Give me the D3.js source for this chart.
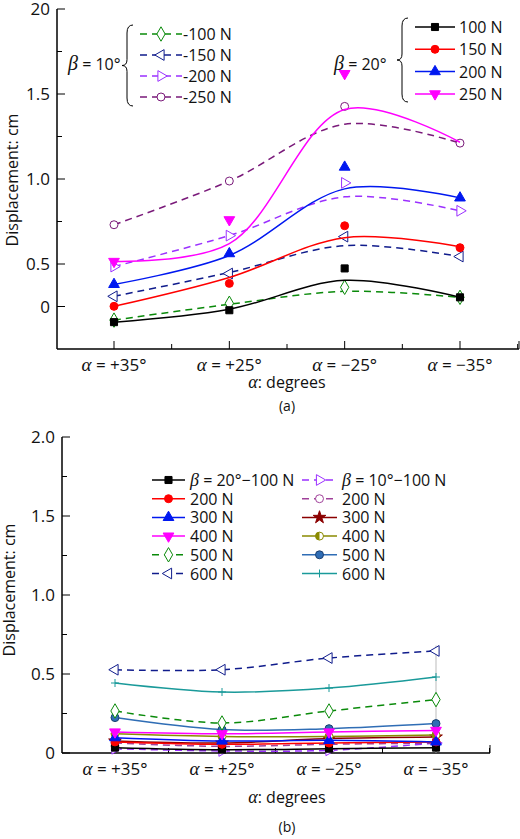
<!DOCTYPE html>
<html><head><meta charset="utf-8">
<script src="https://cdn.jsdelivr.net/npm/d3@7"></script>
<style>body{margin:0;background:#fff}text{font-family:"Open Sans",sans-serif;fill:#111}</style>
</head><body><svg id="c" width="520" height="839"></svg>
<script>
// categories
var alphas = ['+35°', '+25°', '−25°', '−35°'];

// chart (a): measured points and fitted curves
var a20 = [
  {n: '100 N', c: '#000', s: 'square',  pts: [0.158, 0.228, 0.474, 0.304], fit: [0.158, 0.234, 0.404, 0.304]},
  {n: '150 N', c: '#f00', s: 'circle',  pts: [0.251, 0.386, 0.725, 0.596], fit: [0.251, 0.421, 0.655, 0.602]},
  {n: '200 N', c: '#0018f0', s: 'tri',  pts: [0.380, 0.561, 1.070, 0.889], fit: [0.380, 0.550, 0.942, 0.889]},
  {n: '250 N', c: '#ff00ff', s: 'tridown', pts: [0.515, 0.760, 1.620, null], fit: [0.515, 0.620, 1.409, 1.216]}
];
var a10 = [
  {n: '100 N', c: '#0a8a0a', s: 'diamond', pts: [0.170, 0.269, 0.363, 0.304], fit: [0.170, 0.263, 0.339, 0.304]},
  {n: '150 N', c: '#101c8c', s: 'trileft', pts: [0.310, 0.444, 0.661, 0.544], fit: [0.310, 0.450, 0.608, 0.544]},
  {n: '200 N', c: '#9b30ff', s: 'triright', pts: [0.485, 0.667, 0.977, 0.813], fit: [0.485, 0.667, 0.895, 0.813]},
  {n: '250 N', c: '#7a1a7a', s: 'ocircle', pts: [0.731, 0.988, 1.427, 1.211], fit: [0.731, 0.988, 1.322, 1.211]}
];

// chart (b)
var b20 = [
  {n: 'β = 20°−100 N', c: '#000', s: 'square', pts: [0.034, 0.021, 0.027, 0.034]},
  {n: '200 N', c: '#f00', s: 'circle', pts: [0.070, 0.055, 0.063, 0.070]},
  {n: '300 N', c: '#0018f0', s: 'tri', pts: [0.097, 0.076, 0.080, 0.070]},
  {n: '400 N', c: '#ff00ff', s: 'tridown', pts: [0.133, 0.122, 0.133, 0.143]},
  {n: '500 N', c: '#0a8a0a', s: 'diamond', dash: true, pts: [0.266, 0.190, 0.266, 0.338]},
  {n: '600 N', c: '#101c8c', s: 'trileft', dash: true, pts: [0.527, 0.527, 0.601, 0.646]}
];
var b10 = [
  {n: 'β = 10°−100 N', c: '#9b30ff', s: 'triright', dash: true, pts: [0.027, 0.013, 0.017, 0.063]},
  {n: '200 N', c: '#a0409a', s: 'ocircle', dash: true, pts: [0.063, 0.042, 0.055, 0.063]},
  {n: '300 N', c: '#8b0000', s: 'star', pts: [0.076, 0.063, 0.091, 0.101]},
  {n: '400 N', c: '#8a8a00', s: 'half', pts: [0.122, 0.105, 0.105, 0.114]},
  {n: '500 N', c: '#2f6db5', s: 'ball', pts: [0.224, 0.148, 0.154, 0.186]},
  {n: '600 N', c: '#1a9a9a', s: 'plus', pts: [0.443, 0.386, 0.411, 0.481]}
];

var svg = d3.select('#c');

function marker(g, s, c, x, y) {
  var sym = {square: d3.symbolSquare, circle: d3.symbolCircle, tri: d3.symbolTriangle, tridown: d3.symbolTriangle,
    diamond: d3.symbolDiamond, trileft: d3.symbolTriangle, triright: d3.symbolTriangle, ocircle: d3.symbolCircle,
    star: d3.symbolStar, half: d3.symbolCircle, ball: d3.symbolCircle, plus: d3.symbolCross}[s];
  var rot = {tridown: 180, trileft: -90, triright: 90}[s] || 0;
  var hollow = ['diamond', 'trileft', 'triright', 'ocircle'].indexOf(s) >= 0;
  var size = s === 'diamond' ? 60 : 50;
  if (s === 'plus') {
    g.append('path').attr('d', 'M' + (x - 4) + ',' + y + 'h8M' + x + ',' + (y - 4) + 'v8').attr('stroke', c).attr('stroke-width', 1);
    return;
  }
  var p = g.append('path')
    .attr('d', d3.symbol(sym, size)())
    .attr('transform', 'translate(' + x + ',' + y + ') rotate(' + rot + ')')
    .attr('fill', hollow ? '#fff' : c)
    .attr('stroke', c).attr('stroke-width', 1);
  if (s === 'half') {
    p.attr('fill', '#fff');
    g.append('path').attr('d', d3.arc()({innerRadius: 0, outerRadius: 4, startAngle: Math.PI, endAngle: 2 * Math.PI}))
      .attr('transform', 'translate(' + x + ',' + y + ')').attr('fill', c);
  }
  if (s === 'ball') p.attr('stroke', '#1b3f70');
}

function alphaLabel(g, x, y, t) {
  var tx = g.append('text').attr('x', x).attr('y', y).attr('text-anchor', 'middle').style('font-size', '17px');
  tx.append('tspan').text('α').style('font-family', 'Liberation Serif').style('font-style', 'italic').style('font-size', '19px');
  tx.append('tspan').text(' = ' + t);
}

function frame(o) {
  var g = svg.append('g');
  var x = d3.scalePoint().domain(alphas).range(o.xr);
  var y = d3.scaleLinear().domain([0, 2]).range(o.yr);
  var step = x.step();
  g.append('line').attr('x1', o.x0).attr('x2', o.x0).attr('y1', o.yr[1]).attr('y2', o.yr[0]).attr('stroke', '#000').attr('stroke-width', 1.5);
  g.append('line').attr('x1', o.x0).attr('x2', o.x1).attr('y1', o.yr[0]).attr('y2', o.yr[0]).attr('stroke', '#000').attr('stroke-width', 1.5);
  o.yt.forEach(function(t) {
    var major = t[1] !== null;
    g.append('line').attr('x1', o.x0).attr('x2', o.x0 + (major ? 8 : 5)).attr('y1', y(t[0])).attr('y2', y(t[0])).attr('stroke', '#000');
    if (major) g.append('text').attr('x', o.x0 - 7).attr('y', y(t[0]) + 6).attr('text-anchor', 'end').style('font-size', '17px').text(t[1]);
  });
  var xt = [];
  alphas.forEach(function(a) { xt.push([x(a), 8]); xt.push([x(a) + step / 2, 5]); });
  xt.forEach(function(t) {
    if (t[0] > o.x1) return;
    g.append('line').attr('x1', t[0]).attr('x2', t[0]).attr('y1', o.yr[0]).attr('y2', o.yr[0] - t[1]).attr('stroke', '#000');
  });
  g.append('line').attr('x1', o.x1).attr('x2', o.x1).attr('y1', o.yr[0]).attr('y2', o.yr[0] - 8).attr('stroke', '#000');
  alphas.forEach(function(a) { alphaLabel(g, x(a), o.yr[0] + 22, a); });
  g.append('text').attr('transform', 'translate(' + o.ylx + ',' + o.yly + ') rotate(-90)').attr('text-anchor', 'middle').style('font-size', '16px').text('Displacement: cm');
  var xl = g.append('text').attr('x', 287).attr('y', o.xly).attr('text-anchor', 'middle').style('font-size', '16px');
  xl.append('tspan').text('α').style('font-family', 'Liberation Serif').style('font-style', 'italic').style('font-size', '18px');
  xl.append('tspan').text(': degrees');
  g.append('text').attr('x', 287).attr('y', o.capy).attr('text-anchor', 'middle').style('font-size', '14px').text(o.cap);
  return {g: g, x: x, y: y};
}

function drawSeries(f, d, dash, key) {
  var line = d3.line().x(function(v, i) { return f.x(alphas[i]); }).y(function(v) { return f.y(v); }).curve(d3.curveCatmullRom.alpha(0.5));
  f.g.append('path').attr('d', line(d[key])).attr('fill', 'none').attr('stroke', d.c).attr('stroke-width', 1.5)
    .attr('stroke-dasharray', dash ? '7,5' : null);
  d.pts.forEach(function(v, i) { if (v !== null) marker(f.g, d.s, d.c, f.x(alphas[i]), f.y(v)); });
}

function legendRow(g, d, dash, x1, x2, tx, y, label) {
  g.append('line').attr('x1', x1).attr('x2', x2).attr('y1', y).attr('y2', y).attr('stroke', d.c).attr('stroke-width', 1.5)
    .attr('stroke-dasharray', dash ? '7,5' : null);
  marker(g, d.s, d.c, (x1 + x2) / 2, y);
  var t = g.append('text').attr('x', tx).attr('y', y + 6).style('font-size', '16px');
  if (label.indexOf('β') === 0) {
    t.append('tspan').text('β').style('font-family', 'Liberation Serif').style('font-style', 'italic').style('font-size', '18px');
    t.append('tspan').text(label.slice(1));
  } else t.text(label);
}

function brace(g, x, y0, y1) {
  var m = (y0 + y1) / 2;
  g.append('path').attr('fill', 'none').attr('stroke', '#000').attr('stroke-width', 1)
    .attr('d', 'M' + (x + 6) + ',' + y0 + ' Q' + x + ',' + y0 + ' ' + x + ',' + (y0 + 8) + ' L' + x + ',' + (m - 6) +
      ' Q' + x + ',' + m + ' ' + (x - 5) + ',' + m + ' Q' + x + ',' + m + ' ' + x + ',' + (m + 6) +
      ' L' + x + ',' + (y1 - 8) + ' Q' + x + ',' + y1 + ' ' + (x + 6) + ',' + y1);
}

function betaText(g, x, y, t) {
  var tx = g.append('text').attr('x', x).attr('y', y).style('font-size', '16px');
  tx.append('tspan').text('β').style('font-family', 'Liberation Serif').style('font-style', 'italic').style('font-size', '20px');
  tx.append('tspan').text(' = ' + t);
}

// ---- chart (a)
var fa = frame({xr: [114, 460], yr: [349, 9], x0: 57, x1: 519,
  yt: [[2, '20'], [1.75, null], [1.5, '1.5'], [1.25, null], [1, '1.0'], [0.75, null], [0.5, '0.5'], [0.25, '0']],
  ylx: 18, yly: 180, xly: 388, capy: 411, cap: '(a)'});
a10.forEach(function(d) { drawSeries(fa, d, true, 'fit'); });
a20.forEach(function(d) { drawSeries(fa, d, false, 'fit'); });
a10.forEach(function(d, i) { legendRow(fa.g, d, true, 140, 182, 183, 34 + i * 21, '-' + d.n); });
a20.forEach(function(d, i) { legendRow(fa.g, d, false, 415, 455, 459, 27 + i * 22.3, d.n); });
brace(fa.g, 127, 25, 106);
brace(fa.g, 402, 18, 102);
betaText(fa.g, 68, 70, '10°');
betaText(fa.g, 334, 70, '20°');

// ---- chart (b)
var fb = frame({xr: [115, 436], yr: [753, 437], x0: 62, x1: 490,
  yt: [[2, '2.0'], [1.75, null], [1.5, '1.5'], [1.25, null], [1, '1.0'], [0.75, null], [0.5, '0.5'], [0.25, null], [0, '0']],
  ylx: 15, yly: 590, xly: 803, capy: 832, cap: '(b)'});
fb.g.append('line').attr('x1', fb.x(alphas[3])).attr('x2', fb.x(alphas[3])).attr('y1', fb.y(0.68)).attr('y2', fb.y(0))
  .attr('stroke', '#bbb').attr('stroke-width', 1);
b10.forEach(function(d) { drawSeries(fb, d, !!d.dash, 'pts'); });
b20.forEach(function(d) { drawSeries(fb, d, !!d.dash, 'pts'); });
b20.forEach(function(d, i) { legendRow(fb.g, d, !!d.dash, 152, 185, 190, 480 + i * 18.7, d.n); });
b10.forEach(function(d, i) { legendRow(fb.g, d, !!d.dash, 302, 337, 342, 480 + i * 18.7, d.n); });
</script></body></html>
